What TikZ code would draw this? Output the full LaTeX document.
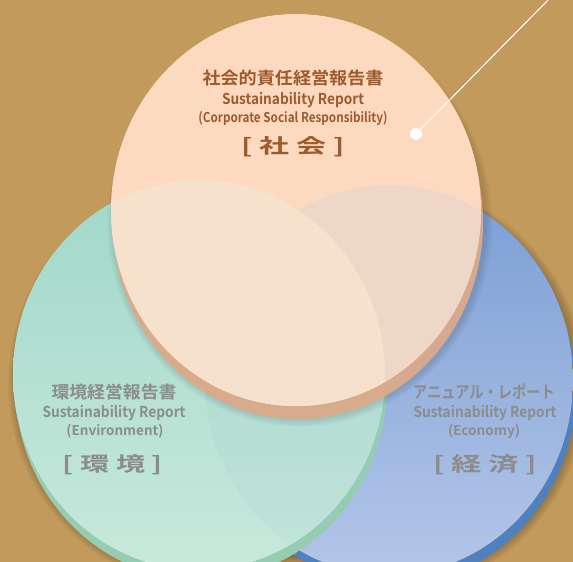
\documentclass[tikz,border=0pt]{standalone}
\usepackage{fontspec}
\usepackage{graphicx}
\setmainfont{Noto Sans CJK JP}[BoldFont={Noto Sans CJK JP Bold}]
\definecolor{bgtan}{RGB}{194,154,92}
\definecolor{peach}{RGB}{253,218,191}
\definecolor{peachedge}{RGB}{222,170,138}
\definecolor{peachgreen}{RGB}{245,225,204}
\definecolor{peachblue}{RGB}{238,215,199}
\definecolor{greentop}{RGB}{160,216,202}
\definecolor{greenbot}{RGB}{200,233,220}
\definecolor{greenedge}{RGB}{150,204,178}
\definecolor{bluetop}{RGB}{122,158,212}
\definecolor{bluebot}{RGB}{180,198,232}
\definecolor{blueedge}{RGB}{80,128,190}
\definecolor{browntxt}{RGB}{158,90,45}
\definecolor{graytxt}{RGB}{140,140,140}
\newcommand\fw[2]{\resizebox{#1pt}{\height}{#2}}
\newcommand\fsz[1]{\fontsize{#1}{#1}\selectfont\bfseries}
\newcommand\peachface{(296,210) ellipse [x radius=185, y radius=196]}
\newcommand\greenface{(199,375) ellipse [x radius=186, y radius=195]}
\newcommand\blueface{(389,380) ellipse [x radius=184, y radius=195]}
\tikzset{
  lbl/.style={inner sep=0pt, outer sep=0pt},
  toplbl/.style={lbl, text=browntxt},
  graylbl/.style={lbl, text=graytxt},
}
\begin{document}
\begin{tikzpicture}[x=1pt,y=-1pt]
\fill[bgtan] (0,0) rectangle (573,562);
\useasboundingbox (0,0) rectangle (573,562);
% soft shadows
\foreach \i in {1,...,6}{
  \fill[black, opacity=0.035] (393,388) ellipse [x radius=184+\i*1.5, y radius=195+\i*1.5];
  \fill[black, opacity=0.035] (203,383) ellipse [x radius=186+\i*1.5, y radius=195+\i*1.5];
}
% blue disc
\fill[blueedge, even odd rule] (392,390) ellipse [x radius=184, y radius=195] \blueface;
\shade[top color=bluetop, bottom color=bluebot] \blueface;
% green disc
\fill[greenedge, even odd rule] (201,385) ellipse [x radius=186, y radius=195] \greenface;
\shade[top color=greentop, bottom color=greenbot] \greenface;
\begin{scope}
  \clip \greenface;
  \fill[bluetop, opacity=0.06] \blueface;
\end{scope}
% shadow of peach
\foreach \i in {1,...,5}{
  \fill[black, opacity=0.025, even odd rule] (300,223) ellipse [x radius=185+\i*1.5, y radius=196+\i*1.5] \peachface;
}
% peach disc
\fill[peachedge, opacity=0.93, even odd rule] (298,223) ellipse [x radius=185, y radius=196] \peachface;
\fill[peach] \peachface;
\begin{scope}
  \clip \peachface;
  \fill[peachblue] \blueface;
  \fill[peachgreen] \greenface;
\end{scope}
% top texts
\node[toplbl] (t1) at (293,78) {\fw{181}{\fsz{17}社会的責任経営報告書}};
\node[toplbl] (t2) at (293,100) {\fw{142}{\fsz{15}Sustainability Report}};
\node[toplbl] (t3) at (293,118) {\fw{189}{\fsz{13.5}(Corporate Social Responsibility)}};
\node[toplbl] (t4) at (293,147) {\fw{103}{\fsz{20}[\ 社\ 会\ ]}};
% left texts
\node[graylbl] (l1) at (114,392) {\fw{125}{\fsz{17}環境経営報告書}};
\node[graylbl] (l2) at (114,413) {\fw{143}{\fsz{15}Sustainability Report}};
\node[graylbl] (l3) at (115,431) {\fw{97}{\fsz{13.5}(Environment)}};
\node[graylbl] (l4) at (113,465) {\fw{100}{\fsz{20}[\ 環\ 境\ ]}};
% right texts
\node[graylbl] (r1) at (484,392) {\fw{142}{\fsz{17}アニュアル・レポート}};
\node[graylbl] (r2) at (485,413) {\fw{143}{\fsz{15}Sustainability Report}};
\node[graylbl] (r3) at (484,431) {\fw{72}{\fsz{13.5}(Economy)}};
\node[graylbl] (r4) at (485,465) {\fw{104}{\fsz{20}[\ 経\ 済\ ]}};
% pointer
\node[circle, fill=white, minimum size=12pt, inner sep=0pt] (dot) at (416,134) {};
\coordinate (lineend) at (549,-1);
\draw[white, line width=1pt] (dot.center) -- (lineend);
\end{tikzpicture}
\end{document}
